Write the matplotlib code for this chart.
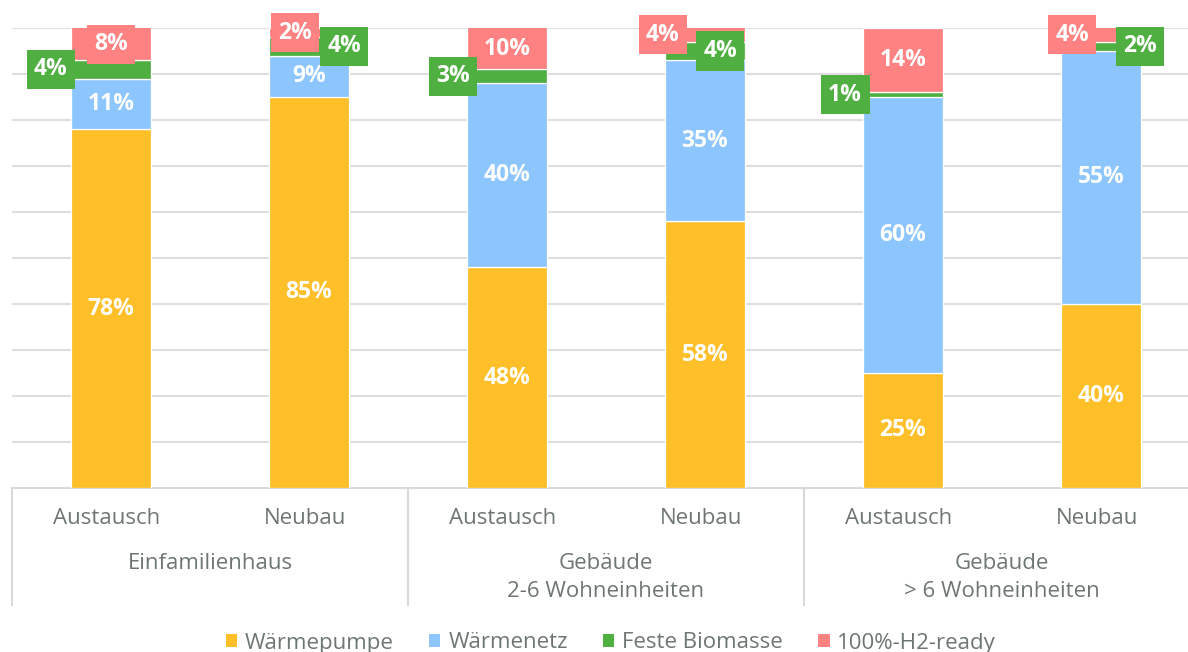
import matplotlib
matplotlib.use("Agg")
import matplotlib.pyplot as plt
from matplotlib.patches import Patch
from matplotlib.transforms import blended_transform_factory
import numpy as np

# ---------------- data ----------------
groups = ["Einfamilienhaus", "Gebäude\n2-6 Wohneinheiten", "Gebäude\n> 6 Wohneinheiten"]
cases = ["Austausch", "Neubau", "Austausch", "Neubau", "Austausch", "Neubau"]
series_names = ["Wärmepumpe", "Wärmenetz", "Feste Biomasse", "100%-H2-ready"]
waermepumpe = [78, 85, 48, 58, 25, 40]
waermenetz = [11, 9, 40, 35, 60, 55]
feste_biomasse = [4, 4, 3, 4, 1, 2]
h2_ready = [8, 2, 10, 4, 14, 4]

# ---------------- style ----------------
colors = ["#FEBF29", "#8DC6FE", "#4FAF41", "#FF8282"]
text_gray = "#6E7675"
grid_gray = "#DEDEDE"
# horizontal label offsets (pixels) for the small labelled segments
bio_dx = [-60, 35, -54, 15, -58, 39]
h2_dx = [0, -14, 0, -42, 0, -29]

plt.rcParams['font.family'] = ['Open Sans', 'DejaVu Sans']

W, H = 1188, 652
fig = plt.figure(figsize=(W / 100, H / 100), dpi=100)
ax_left, ax_bottom_px, ax_top_px, ax_right = 12, 488, 28, 1200
ax = fig.add_axes([ax_left / W, (H - ax_bottom_px) / H,
                   (ax_right - ax_left) / W, (ax_bottom_px - ax_top_px) / H])

series = [waermepumpe, waermenetz, feste_biomasse, h2_ready]
x = np.arange(len(cases))
bottom = np.zeros(len(cases))
ymax = 100
for si, vals in enumerate(series):
    vals = np.array(vals, dtype=float)
    ax.bar(x, vals, bottom=bottom, width=0.4, color=colors[si],
           edgecolor="white", linewidth=0.9, zorder=3)
    for i in range(len(x)):
        lo = bottom[i]
        hi = min(bottom[i] + vals[i], ymax)
        yc = (lo + hi) / 2
        label = f"{int(vals[i])}%"
        if si in (0, 1):
            ax.annotate(label, (x[i], yc), ha="center", va="center",
                        color="white", fontsize=16.5, fontweight="bold", zorder=5)
        else:
            dx = bio_dx[i] if si == 2 else h2_dx[i]
            ax.annotate(label, (x[i], yc), xytext=(dx, 0), textcoords="offset pixels",
                        ha="center", va="center", color="white", fontsize=16.5,
                        fontweight="bold", zorder=6 if si == 2 else 5,
                        bbox=dict(boxstyle="square,pad=0.33", facecolor=colors[si],
                                  edgecolor="none"))
    bottom = bottom + vals

ax.set_xlim(-0.5, 5.5)
ax.set_ylim(0, ymax)
ax.set_yticks(np.arange(10, 101, 10))
ax.yaxis.grid(True, color=grid_gray, linewidth=1.5, zorder=0)
ax.set_axisbelow(True)
ax.tick_params(axis="both", length=0, labelleft=False, labelbottom=False)
ax.set_xticks([])
for s in ["left", "right", "top"]:
    ax.spines[s].set_visible(False)
ax.spines["bottom"].set_color("#D9D9D9")
ax.spines["bottom"].set_linewidth(1.5)

trans = blended_transform_factory(ax.transData, ax.transAxes)
hpx = ax_bottom_px - ax_top_px
# case labels
for i, c in enumerate(cases):
    ax.text(x[i] - 0.02, (ax_bottom_px - 519) / hpx, c, transform=trans,
            ha="center", va="center", fontsize=16, color=text_gray)
# group labels
for g, name in enumerate(groups):
    ax.text(2 * g + 0.5, (ax_bottom_px - 553) / hpx, name, transform=trans,
            ha="center", va="top", fontsize=16, color=text_gray, linespacing=1.43)
# separators
for xs in [-0.5, 1.5, 3.5, 5.5]:
    ax.plot([xs, xs], [0, (ax_bottom_px - 605) / hpx], transform=trans,
            color="#D9D9D9", linewidth=1.5, clip_on=False)

handles = [Patch(facecolor=colors[i], edgecolor="none") for i in range(4)]
fig.legend(handles, series_names, loc="center left",
           bbox_to_anchor=(226 / W, (H - 643) / H), ncol=4, frameon=False,
           fontsize=16, labelcolor=text_gray, handlelength=0.5, handleheight=0.5,
           handletextpad=0.35, columnspacing=1.6, borderpad=0, borderaxespad=0)

fig.savefig("out.png", dpi=100)
